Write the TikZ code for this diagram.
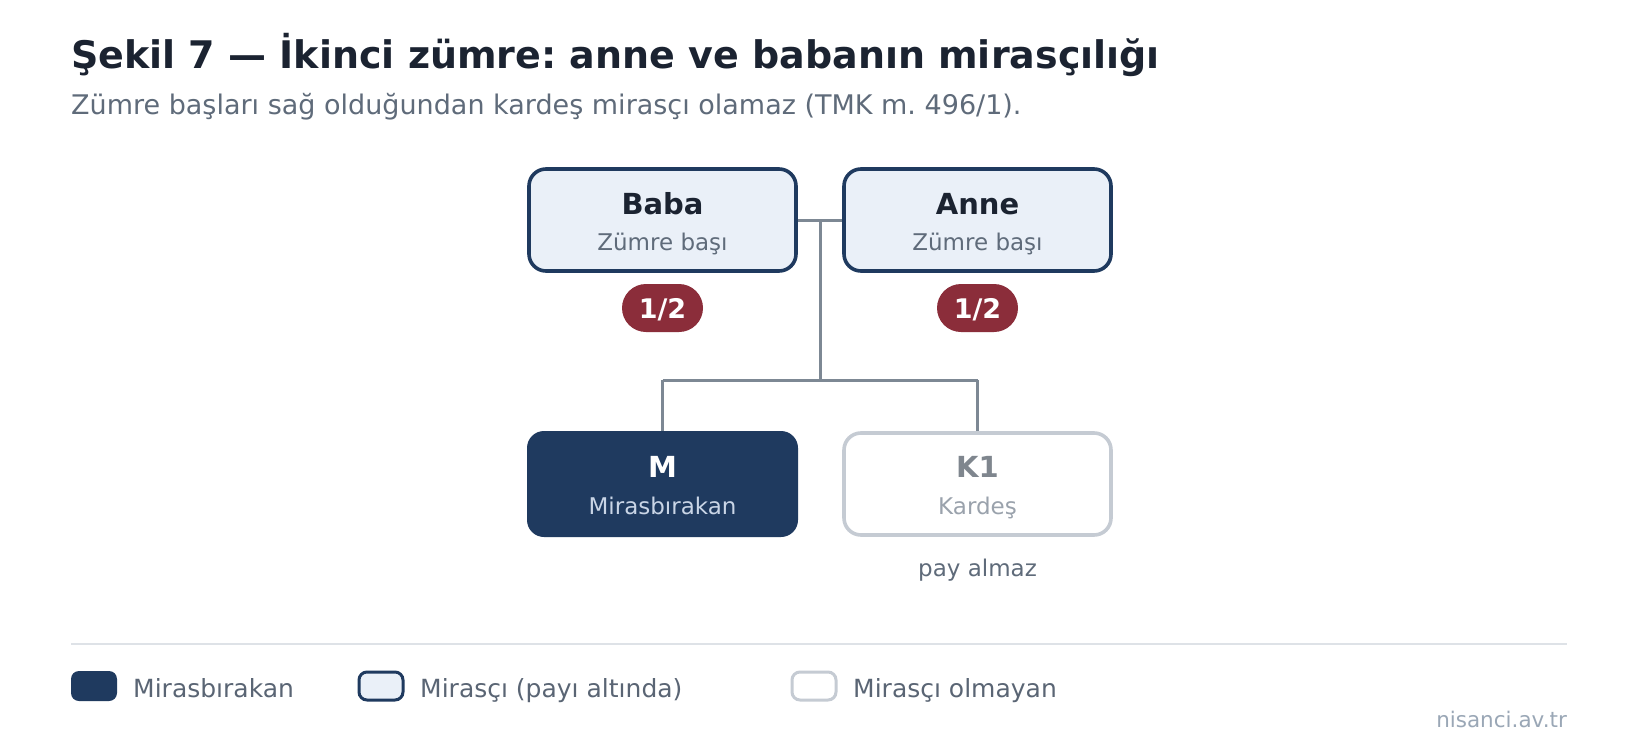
\documentclass[tikz,border=0pt]{standalone}
\usepackage{fontspec}
\setmainfont{DejaVu Sans}
\frenchspacing
\definecolor{titlec}{HTML}{1B2331}
\definecolor{subc}{HTML}{5F6B7A}
\definecolor{navy}{HTML}{1F3A5F}
\definecolor{lightfill}{HTML}{EAF0F8}
\definecolor{conn}{HTML}{7D8894}
\definecolor{badgec}{HTML}{8B2D3A}
\definecolor{greyborder}{HTML}{C5CBD3}
\definecolor{greyname}{HTML}{7F868E}
\definecolor{greysub}{HTML}{9AA2AC}
\definecolor{msub}{HTML}{C9D5E6}
\definecolor{sepc}{HTML}{DEE2E7}
\definecolor{legc}{HTML}{5A6574}
\definecolor{footc}{HTML}{9AA7B6}
\newcommand{\fsz}[1]{\fontsize{#1}{#1}\selectfont}
\tikzset{
  heirbox/.style={rectangle, rounded corners=17pt, minimum width=267pt, minimum height=102pt,
    line width=3.6pt, draw=navy, fill=lightfill, inner sep=0pt},
  deceasedbox/.style={rectangle, rounded corners=17pt, minimum width=271pt, minimum height=106pt,
    fill=navy, inner sep=0pt},
  nonheirbox/.style={rectangle, rounded corners=17pt, minimum width=267pt, minimum height=102pt,
    line width=3.6pt, draw=greyborder, fill=white, inner sep=0pt},
  nametext/.style={anchor=base, inner sep=0pt, font=\fsz{29}\bfseries},
  roletext/.style={anchor=base, inner sep=0pt, font=\fsz{23}},
  badge/.style={rectangle, rounded corners=24pt, minimum width=81pt, minimum height=48pt,
    fill=badgec, text=white, font=\fsz{27}\bfseries, inner sep=0pt, text height=20pt, text depth=0pt},
  connector/.style={draw=conn, line width=3pt},
  legbox/.style={rectangle, rounded corners=8pt, minimum width=44pt, minimum height=28pt, inner sep=0pt},
  legtext/.style={anchor=base west, inner sep=0pt, font=\fsz{25}, text=legc},
}
\begin{document}
\begin{tikzpicture}[x=1pt,y=-1pt]
\useasboundingbox (0,0) rectangle (1640,752);
\fill[white] (0,0) rectangle (1640,752);

% title
\node[anchor=base west, inner sep=0pt, font=\fsz{38}\bfseries, text=titlec] (title) at (71,68)
  {Şekil 7 — İkinci zümre: anne ve babanın mirasçılığı};
\node[anchor=base west, inner sep=0pt, font=\fsz{27}, text=subc] (subtitle) at (71,114)
  {Zümre başları sağ olduğundan kardeş mirasçı olamaz (TMK m. 496/1).};

% connectors
\coordinate (j1) at (820,220);
\coordinate (j2) at (820,380);
\coordinate (bl) at (662.5,380);
\coordinate (br) at (977.5,380);
\draw[connector] (j1) -- (j2);
\draw[connector] (bl) -- (br);
\draw[connector] (bl) -- (662.5,431);
\draw[connector] (br) -- (977.5,431);

% parents
\node[heirbox] (baba) at (662.5,220) {};
\node[heirbox] (anne) at (977.5,220) {};
\draw[connector] (baba.east) -- (anne.west);
\node[nametext, text=titlec] (babaname) at (662.5,214) {Baba};
\node[roletext, text=subc] (babarole) at (662.5,250) {Zümre başı};
\node[nametext, text=titlec] (annename) at (977.5,214) {Anne};
\node[roletext, text=subc] (annerole) at (977.5,250) {Zümre başı};

% badges
\node[badge] (b1) at (662.5,308) {1/2};
\node[badge] (b2) at (977.5,308) {1/2};

% children
\node[deceasedbox] (m) at (662.5,484) {};
\node[nonheirbox] (k1) at (977.5,484) {};
\draw[connector] (bl) -- (m.north);
\draw[connector] (br) -- (k1.north);
\node[nametext, text=white] (mname) at (662.5,477) {M};
\node[roletext, text=msub] (mrole) at (662.5,514) {Mirasbırakan};
\node[nametext, text=greyname] (kname) at (977.5,477) {K1};
\node[roletext, text=greysub] (krole) at (977.5,514) {Kardeş};
\node[roletext, text=subc] (pay) at (977.5,576) {pay almaz};

% separator
\draw[sepc, line width=2pt] (71,644) -- (1567,644);

% legend
\node[legbox, fill=navy, minimum width=46pt, minimum height=30pt] (l1) at (94,686) {};
\node[legtext] (l1t) at (133,697) {Mirasbırakan};
\node[legbox, fill=lightfill, draw=navy, line width=3pt] (l2) at (381,686) {};
\node[legtext] (l2t) at (420,697) {Mirasçı (payı altında)};
\node[legbox, fill=white, draw=greyborder, line width=3pt] (l3) at (814,686) {};
\node[legtext] (l3t) at (853,697) {Mirasçı olmayan};

% footer
\node[anchor=base east, inner sep=0pt, font=\fsz{21.5}, text=footc] (foot) at (1567,727) {nisanci.av.tr};
\end{tikzpicture}
\end{document}
